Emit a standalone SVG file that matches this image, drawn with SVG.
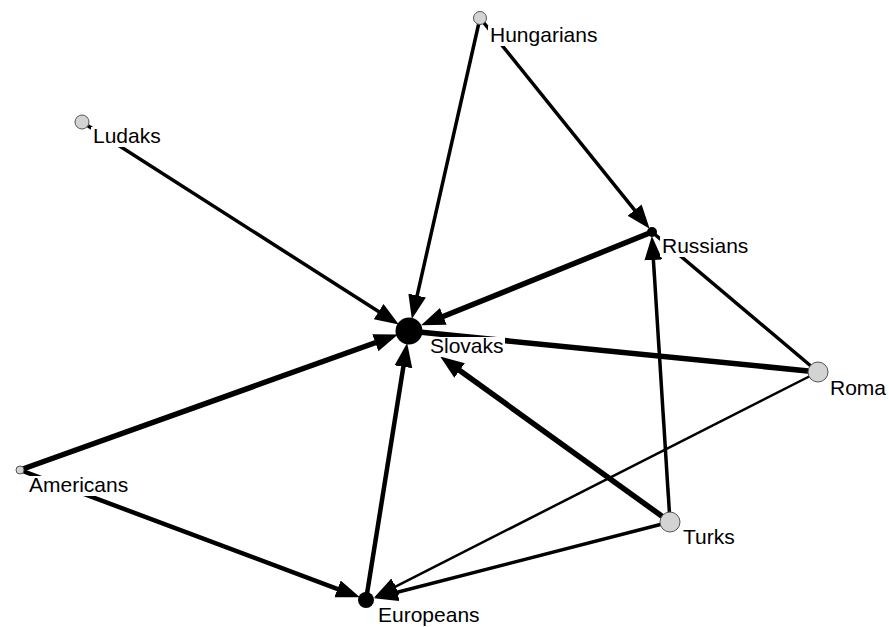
<svg xmlns="http://www.w3.org/2000/svg" width="890" height="627" viewBox="0 0 890 627">
<style>
.e{stroke:#000;fill:none;stroke-linecap:butt}
.a{marker-end:url(#ah)}
.w5{stroke-width:5.5}
.w4{stroke-width:4.5}
.w3{stroke-width:3.5}
.w25{stroke-width:2.5}
.lb{fill:#fff}
.t{font-family:"Liberation Sans",Arial,sans-serif;font-size:21px;fill:#000}
.g{fill:#d3d3d3;stroke:#555;stroke-width:1}
.b{fill:#000}
</style>
<defs>
<marker id="ah" markerUnits="userSpaceOnUse" markerWidth="26" markerHeight="20" refX="11" refY="9" orient="auto" viewBox="0 0 26 20">
<path d="M0,0 L24,9 L0,18 Z" fill="#000"/>
</marker>
</defs>
<rect width="890" height="627" fill="#fff"/>
<g id="edges">
<line class="e a w3" x1="480" y1="18" x2="414.7" y2="306.3"/>
<line class="e a w3" x1="480" y1="18" x2="641.5" y2="218.6"/>
<line class="e a w3" x1="82" y1="122" x2="387.9" y2="317.5"/>
<line class="e a w5" x1="652" y1="232" x2="433.1" y2="320.5"/>
<line class="e w5" x1="818" y1="372" x2="409" y2="331"/>
<line class="e w3" x1="652" y1="232" x2="818" y2="372"/>
<line class="e a w25" x1="818" y1="372" x2="385.7" y2="591.6"/>
<line class="e a w3" x1="670" y1="522" x2="386.6" y2="595"/>
<line class="e a w3" x1="670" y1="522" x2="652.7" y2="249"/>
<line class="e a w5" x1="670" y1="522" x2="450.7" y2="364"/>
<line class="e a w5" x1="20" y1="470" x2="385.7" y2="339"/>
<line class="e a w4" x1="20" y1="470" x2="347.8" y2="592.8"/>
<line class="e a w4" x1="366" y1="600" x2="405.1" y2="355.9"/>
</g>
<g id="node-slovaks">
<rect class="lb" x="427" y="337" width="78" height="20"/>
<circle class="b" cx="409" cy="331" r="13.5"/>
<text class="t" x="430" y="353">Slovaks</text>
</g>
<g id="node-hungarians">
<rect class="lb" x="488" y="26" width="111" height="20"/>
<circle class="g" cx="480" cy="18" r="6.5"/>
<text class="t" x="490" y="42">Hungarians</text>
</g>
<g id="node-ludaks">
<rect class="lb" x="91" y="127" width="70" height="20"/>
<circle class="g" cx="82" cy="122" r="7"/>
<text class="t" x="93" y="143">Ludaks</text>
</g>
<g id="node-americans">
<rect class="lb" x="27" y="476" width="102" height="20"/>
<circle class="g" cx="20" cy="470" r="4"/>
<text class="t" x="29" y="492">Americans</text>
</g>
<g id="node-russians">
<rect class="lb" x="660" y="237" width="89" height="20"/>
<circle class="b" cx="652" cy="232" r="5"/>
<text class="t" x="662" y="253">Russians</text>
</g>
<g id="node-roma">
<rect class="lb" x="828" y="379" width="60" height="20"/>
<circle class="g" cx="818" cy="372" r="10"/>
<text class="t" x="830" y="395">Roma</text>
</g>
<g id="node-turks">
<rect class="lb" x="681" y="528" width="57" height="20"/>
<circle class="g" cx="670" cy="522" r="10"/>
<text class="t" x="683" y="544">Turks</text>
</g>
<g id="node-europeans">
<rect class="lb" x="376" y="606" width="107" height="20"/>
<circle class="b" cx="366" cy="600" r="8"/>
<text class="t" x="378" y="622">Europeans</text>
</g>
</svg>
